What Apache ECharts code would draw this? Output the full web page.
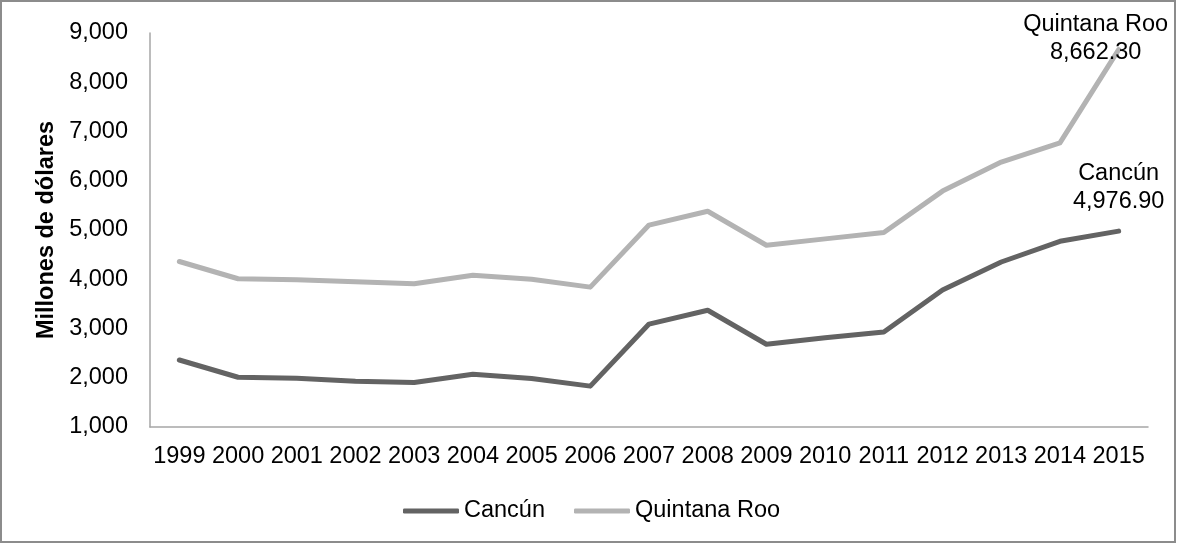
<!DOCTYPE html>
<html>
<head>
<meta charset="utf-8">
<script src="https://cdn.jsdelivr.net/npm/echarts@6/dist/echarts.min.js"></script>
<style>
  html, body { margin: 0; padding: 0; background: #fff; }
  #chart { width: 1177px; height: 544px; }
</style>
</head>
<body>
<div id="chart"></div>
<script>
// Ingresos por turismo, millones de dólares
const years = ['1999','2000','2001','2002','2003','2004','2005','2006','2007','2008','2009','2010','2011','2012','2013','2014','2015'];
const cancun = [2360, 2010, 1990, 1930, 1905, 2070, 1985, 1830, 3090, 3370, 2680, 2810, 2930, 3780, 4350, 4770, 4976.9];
const quintanaRoo = [4360, 4010, 3990, 3950, 3910, 4080, 4000, 3840, 5100, 5380, 4690, 4820, 4950, 5790, 6380, 6770, 8662.3];
const yTicks = { min: 1000, max: 9000, step: 1000 };

const FONT = "'Liberation Sans', Arial, sans-serif";
const FS = 23.5;

const fmtThousands = v => Number(v).toLocaleString('en-US');
const fmtValue = v => Number(v).toLocaleString('en-US', { minimumFractionDigits: 2, maximumFractionDigits: 2 });

// Only the final year carries a name/value label
function withEndLabel(values, label) {
  return values.map((v, i) => i === values.length - 1
    ? { value: v, symbol: 'circle', symbolSize: 0, label: Object.assign({ show: true }, label) }
    : v);
}

const labelText = {
  fontFamily: FONT, fontSize: FS, color: '#000', lineHeight: 28, align: 'center',
  formatter: p => p.seriesName + '\n' + fmtValue(p.value)
};

const chart = echarts.init(document.getElementById('chart'), null, { renderer: 'canvas' });
chart.setOption({
  animation: false,
  backgroundColor: '#fff',
  textStyle: { fontFamily: FONT },
  graphic: [{
    type: 'rect',
    shape: { x: 1, y: 1, width: 1174, height: 541 },
    style: { fill: 'none', stroke: '#8c8c8c', lineWidth: 2 },
    silent: true
  }],
  grid: { left: 150, right: 29, top: 33, bottom: 117, containLabel: false },
  legend: {
    left: 398, top: 494,
    itemWidth: 56, itemHeight: 5, itemGap: 29,
    icon: 'roundRect',
    textStyle: { fontFamily: FONT, fontSize: FS, color: '#000' },
    data: ['Cancún', 'Quintana Roo']
  },
  xAxis: {
    type: 'category',
    data: years,
    boundaryGap: true,
    axisLine: { lineStyle: { color: '#a6a6a6', width: 1.5 } },
    axisTick: { show: false },
    axisLabel: { interval: 0, margin: 18, fontFamily: FONT, fontSize: FS, color: '#000' }
  },
  yAxis: {
    type: 'value',
    min: yTicks.min, max: yTicks.max, interval: yTicks.step,
    name: 'Millones de dólares',
    nameLocation: 'middle', nameRotate: 90, nameGap: 88,
    nameTextStyle: { fontFamily: FONT, fontSize: FS, fontWeight: 'bold', color: '#000' },
    axisLine: { show: true, lineStyle: { color: '#a6a6a6', width: 1.5 } },
    axisTick: { show: false },
    splitLine: { show: false },
    axisLabel: { margin: 22, fontFamily: FONT, fontSize: FS, color: '#000', formatter: fmtThousands }
  },
  series: [
    {
      name: 'Cancún', type: 'line',
      symbol: 'none',
      lineStyle: { color: '#636363', width: 5, cap: 'round', join: 'round' },
      itemStyle: { color: '#636363' },
      data: withEndLabel(cancun, Object.assign({}, labelText, { position: 'top', distance: 16, offset: [0, 0] }))
    },
    {
      name: 'Quintana Roo', type: 'line',
      symbol: 'none',
      lineStyle: { color: '#b3b3b3', width: 5, cap: 'round', join: 'round' },
      itemStyle: { color: '#b3b3b3' },
      data: withEndLabel(quintanaRoo, Object.assign({}, labelText, { position: 'top', distance: 0, offset: [-23, 17] }))
    }
  ]
});
</script>
</body>
</html>
